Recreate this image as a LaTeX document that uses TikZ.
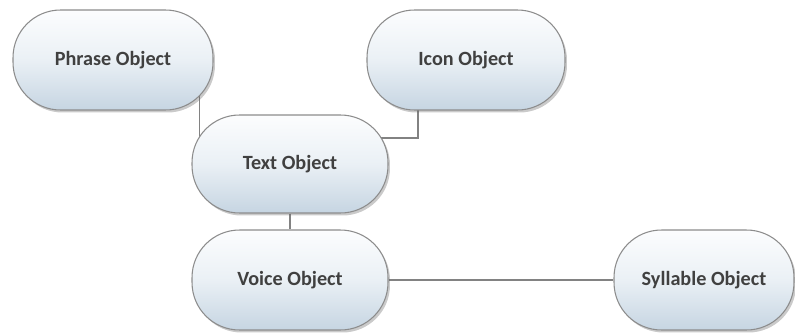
\documentclass[tikz,border=0pt]{standalone}
\usepackage{fontspec}
\setmainfont{Carlito}
\usetikzlibrary{shadows,backgrounds}
\definecolor{bubbletop}{RGB}{252,253,254}
\definecolor{bubblemid}{RGB}{234,240,245}
\definecolor{bubblebottom}{RGB}{198,213,226}
\definecolor{bubbleline}{RGB}{140,140,140}
\definecolor{bubbletext}{RGB}{64,64,64}
\definecolor{linkline}{RGB}{130,130,130}

\begin{document}
\begin{tikzpicture}[x=0.02cm,y=-0.02cm,
    bubble/.style={rectangle,rounded corners=0.95cm,draw=bubbleline,line width=0.6pt,
      top color=bubbletop,bottom color=bubblebottom,middle color=bubblemid,
      drop shadow={shadow xshift=0.04cm,shadow yshift=-0.05cm,opacity=0.35,fill=black!60},
      minimum height=2cm,text=bubbletext,font=\fontsize{11.5}{14}\selectfont\bfseries},
    link/.style={draw=linkline,line width=0.6pt}]
  \useasboundingbox (0,0) rectangle (795,332);
  \node[bubble,minimum width=4cm] (phrase) at (113,60) {Phrase Object};
  \node[bubble,minimum width=3.96cm] (icon) at (466,60) {Icon Object};
  \node[bubble,minimum width=3.92cm,minimum height=1.96cm] (text) at (290,164) {Text Object};
  \node[bubble,minimum width=3.92cm] (voice) at (290,280) {Voice Object};
  \node[bubble,minimum width=3.6cm] (syllable) at (704,280) {Syllable Object};
  \begin{pgfonlayer}{background}
    \draw[link] ([xshift=0.16cm]text.west) -- ([xshift=0.16cm]text.west |- phrase.center);
    \draw[link] ([xshift=-0.96cm]icon.center) |- ([yshift=0.52cm]text.center);
    \draw[link] (text) -- (voice);
    \draw[link] (voice) -- (syllable);
  \end{pgfonlayer}
\end{tikzpicture}
\end{document}
